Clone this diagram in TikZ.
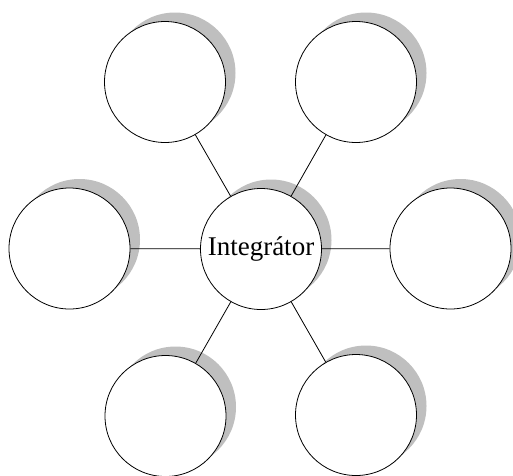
\documentclass[tikz,border=0pt]{standalone}
\usepackage{fontspec}
\setmainfont{Liberation Serif}
\usetikzlibrary{shadows}
\begin{document}
\begin{tikzpicture}[x=1pt, y=-1pt, line width=0.8pt,
  bub/.style={circle, draw, fill=white, minimum size=121pt, inner sep=0pt,
    drop shadow={shadow xshift=10pt, shadow yshift=9pt, fill=black!25, opacity=1}}]
\useasboundingbox (0,0) rectangle (513,475);
\node[bub, font=\fontsize{27}{30}\selectfont] (hub) at (261,249) {Integrátor};
\node[bub] (tl) at (165,82) {};
\node[bub] (tr) at (356,82) {};
\node[bub] (lf) at (69.5,248.5) {};
\node[bub] (rt) at (450.5,248.5) {};
\node[bub] (bl) at (165.5,416) {};
\node[bub] (br) at (356,415) {};
\draw (hub)--(tl);
\draw (hub)--(tr);
\draw (hub)--(lf);
\draw (hub)--(rt);
\draw (hub)--(bl);
\draw (hub)--(br);
\end{tikzpicture}
\end{document}
